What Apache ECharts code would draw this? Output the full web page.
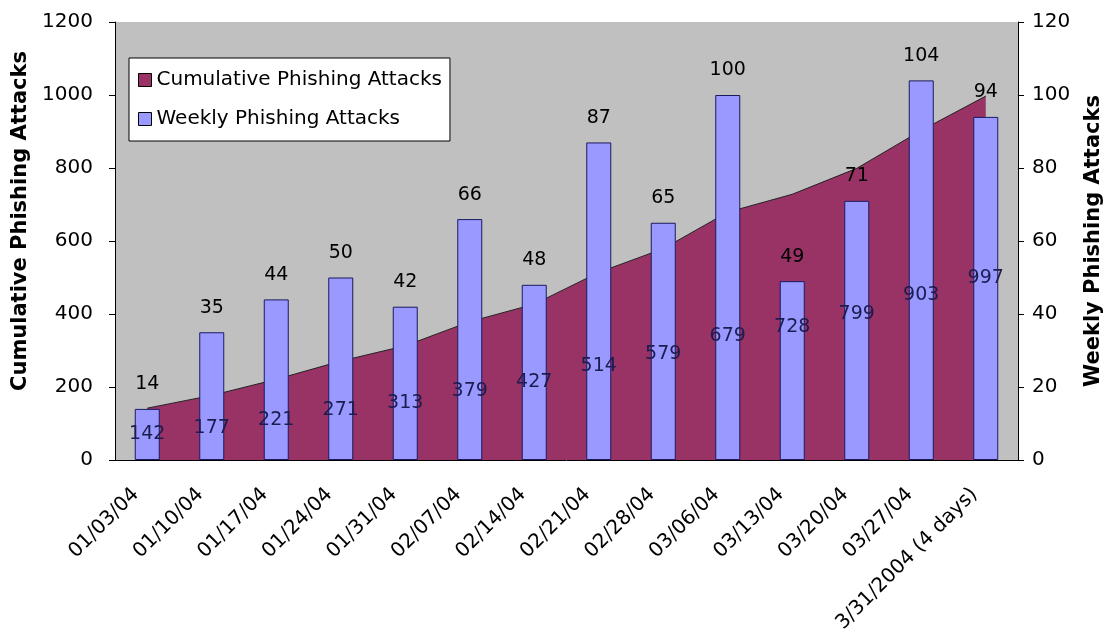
<!DOCTYPE html>
<html>
<head>
<meta charset="utf-8">
<script src="https://cdn.jsdelivr.net/npm/echarts@6/dist/echarts.min.js"></script>
<style>
  html, body { margin: 0; padding: 0; background: #fff; }
  #chart_con { width: 1107px; height: 643px; }
</style>
</head>
<body>
<div id="chart_con"></div>
<script>
// weeks
var weeks = ['01/03/04', '01/10/04', '01/17/04', '01/24/04', '01/31/04', '02/07/04', '02/14/04',
  '02/21/04', '02/28/04', '03/06/04', '03/13/04', '03/20/04', '03/27/04', '3/31/2004 (4 days)'];
// cumulative attacks (left axis)
var cumulative = [142, 177, 221, 271, 313, 379, 427, 514, 579, 679, 728, 799, 903, 997];
// weekly attacks (right axis)
var weekly = [14, 35, 44, 50, 42, 66, 48, 87, 65, 100, 49, 71, 104, 94];
var leftTicks = [0, 1200, 200];
var rightTicks = [0, 120, 20];

var font = 'DejaVu Sans';
var chart = echarts.init(document.getElementById('chart_con'));

var option = {
    animation: false,
    grid: {
        left: 115, right: 89, top: 22, bottom: 183,
        outerBoundsMode: 'none',
        containLabel: false,
        show: true, backgroundColor: '#c0c0c0', borderWidth: 0
    },
    legend: {
        orient: 'vertical',
        left: 129, top: 58,
        padding: [12, 8, 12, 9],
        itemGap: 19,
        itemWidth: 13, itemHeight: 13,
        icon: 'rect',
        backgroundColor: '#fff',
        borderColor: '#000', borderWidth: 1,
        textStyle: { fontFamily: font, fontSize: 20, color: '#000' },
        data: [
            { name: 'Cumulative Phishing Attacks', itemStyle: { color: '#993366', borderColor: '#000', borderWidth: 1 } },
            { name: 'Weekly Phishing Attacks', itemStyle: { color: '#9999ff', borderColor: '#000', borderWidth: 1 } }
        ]
    },
    xAxis: {
        type: 'category',
        data: weeks,
        axisLine: { lineStyle: { color: '#000' } },
        axisTick: { length: 6, lineStyle: { color: '#000' } },
        axisLabel: {
            rotate: 45, margin: 20, padding: [0, 16, 0, 0],
            fontFamily: font, fontSize: 20, color: '#000'
        }
    },
    yAxis: [
        {
            type: 'value',
            min: leftTicks[0], max: leftTicks[1], interval: leftTicks[2],
            name: 'Cumulative Phishing Attacks',
            nameLocation: 'middle', nameGap: 84,
            nameTextStyle: {
                fontFamily: font, fontSize: 21, fontWeight: 'bold', color: '#000',
                padding: [0, 0, 0, 40]
            },
            axisLine: { show: true, lineStyle: { color: '#000' } },
            axisTick: { show: true, length: 6, lineStyle: { color: '#000' } },
            axisLabel: {
                margin: 22, fontFamily: font, fontSize: 20, color: '#000',
                formatter: function (v) { return String(v); }
            },
            splitLine: { show: false }
        },
        {
            type: 'value',
            min: rightTicks[0], max: rightTicks[1], interval: rightTicks[2],
            name: 'Weekly Phishing Attacks',
            nameLocation: 'middle', nameGap: 65,
            nameTextStyle: { fontFamily: font, fontSize: 21, fontWeight: 'bold', color: '#000' },
            axisLine: { show: true, lineStyle: { color: '#000' } },
            axisTick: { show: true, length: 6, lineStyle: { color: '#000' } },
            axisLabel: {
                margin: 14, fontFamily: font, fontSize: 20, color: '#000',
                formatter: function (v) { return String(v); }
            },
            splitLine: { show: false }
        }
    ],
    series: [
        {
            name: 'Cumulative Phishing Attacks',
            type: 'line',
            yAxisIndex: 0,
            data: cumulative,
            symbol: 'none',
            z: 1,
            itemStyle: { color: '#993366' },
            lineStyle: { color: '#222', width: 1 },
            areaStyle: { color: '#993366', opacity: 1 }
        },
        {
            name: 'Weekly Phishing Attacks',
            type: 'bar',
            yAxisIndex: 1,
            data: weekly,
            barWidth: 25,
            barGap: '-100%',
            z: 3,
            itemStyle: { color: '#9999ff', borderColor: '#1a1a60', borderWidth: 1 },
            label: {
                show: true, position: 'top', distance: 15,
                fontFamily: font, fontSize: 19, color: '#000'
            }
        },
        {
            // invisible carrier so the cumulative labels sit mid-area
            name: 'cumLabels',
            type: 'bar',
            yAxisIndex: 0,
            data: cumulative,
            barWidth: 25,
            barGap: '-100%',
            itemStyle: { color: 'rgba(0,0,0,0)' },
            label: {
                show: true, position: 'inside',
                fontFamily: font, fontSize: 19, color: '#1c1c50'
            },
            z: 5
        }
    ]
};

chart.setOption(option);
</script>
</body>
</html>
